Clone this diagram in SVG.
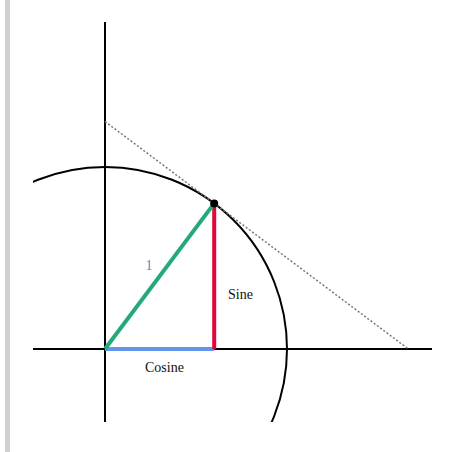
<svg xmlns="http://www.w3.org/2000/svg" width="464" height="452" viewBox="0 0 464 452">
<style>
.axis{stroke:#000;stroke-width:2;fill:none}
.lbl{font-family:"Liberation Serif","Times New Roman",serif;font-size:14px;fill:#111}
.one{fill:#5f7fcf}
</style>
<defs>
<clipPath id="clip"><rect x="33" y="22" width="399" height="400"/></clipPath>
</defs>
<rect x="0" y="0" width="464" height="452" fill="#fff"/>
<rect x="5" y="0" width="5" height="452" fill="#d0d0d0"/>
<g id="connectors">
<line class="axis" x1="105" y1="22" x2="105" y2="422"/>
<line class="axis" x1="33" y1="349" x2="432" y2="349"/>
<circle class="axis" cx="105" cy="349" r="182" clip-path="url(#clip)"/>
<line x1="105" y1="121.5" x2="408.3" y2="349" stroke="#777" stroke-width="1.5" stroke-dasharray="2,2"/>
<line x1="105" y1="349" x2="214.2" y2="349" stroke="#6495ed" stroke-width="4"/>
<line x1="214.2" y1="203.4" x2="214.2" y2="349" stroke="#e0073d" stroke-width="4"/>
<line x1="105" y1="349" x2="214.2" y2="203.4" stroke="#23aa78" stroke-width="4"/>
</g>
<g id="point"><circle cx="214.2" cy="203.4" r="4" fill="#000"/></g>
<g id="label-1"><text class="lbl one" x="149" y="270" text-anchor="middle">1</text></g>
<g id="label-sine"><text class="lbl" x="228" y="299">Sine</text></g>
<g id="label-cosine"><text class="lbl" x="145" y="372">Cosine</text></g>
</svg>
